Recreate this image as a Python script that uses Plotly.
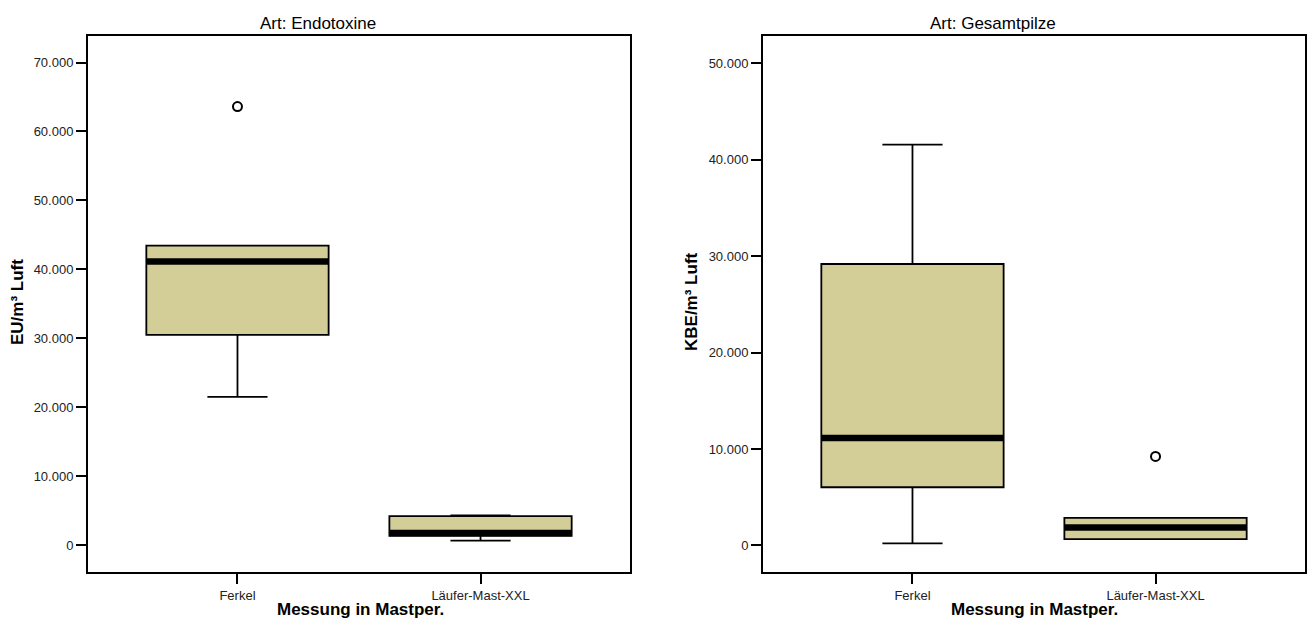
import plotly.graph_objects as go

# Categories on the x axis of both panels
categories = ["Ferkel", "Läufer-Mast-XXL"]

# Endotoxine (EU/m³ Luft) – box statistics per category
endo_q1 = [30480, 1320]
endo_median = [41120, 1750]
endo_q3 = [43440, 4200]
endo_lower = [21480, 630]
endo_upper = [43440, 4300]
endo_outlier_cat = [0]
endo_outlier_val = [63610]

# Gesamtpilze (KBE/m³ Luft) – box statistics per category
pilze_q1 = [6030, 650]
pilze_median = [11130, 1860]
pilze_q3 = [29190, 2850]
pilze_lower = [200, 650]
pilze_upper = [41570, 2850]
pilze_outlier_cat = [1]
pilze_outlier_val = [9230]

endo_ticks = [0, 10000, 20000, 30000, 40000, 50000, 60000, 70000]
pilze_ticks = [0, 10000, 20000, 30000, 40000, 50000]

BOX_FILL = "#D3CE98"
BOX_W = 0.75
FONT = "Liberation Sans, Arial, sans-serif"

fig = go.Figure()

panels = [
    ("x", "y", endo_q1, endo_median, endo_q3, endo_lower, endo_upper,
     endo_outlier_cat, endo_outlier_val),
    ("x2", "y2", pilze_q1, pilze_median, pilze_q3, pilze_lower, pilze_upper,
     pilze_outlier_cat, pilze_outlier_val),
]

for xa, ya, q1, med, q3, lo, hi, ocat, oval in panels:
    pos = list(range(len(categories)))
    fig.add_trace(go.Box(
        x=pos, q1=q1, median=med, q3=q3, lowerfence=lo, upperfence=hi,
        width=BOX_W, whiskerwidth=0.33, fillcolor=BOX_FILL,
        line=dict(color="black", width=1.8), boxpoints=False,
        xaxis=xa, yaxis=ya, showlegend=False, hoverinfo="skip",
    ))
    # thick median bars
    for i, m in enumerate(med):
        fig.add_trace(go.Scatter(
            x=[i - BOX_W / 2, i + BOX_W / 2], y=[m, m], mode="lines",
            line=dict(color="black", width=6.5), xaxis=xa, yaxis=ya,
            showlegend=False, hoverinfo="skip",
        ))
    # outliers
    fig.add_trace(go.Scatter(
        x=ocat, y=oval, mode="markers",
        marker=dict(symbol="circle-open", size=9, color="black",
                    line=dict(width=2, color="black")),
        xaxis=xa, yaxis=ya, showlegend=False, hoverinfo="skip",
    ))

W, H = 1311, 627


def px_x(p):
    return p / W


def px_y(p):
    return 1 - p / H


xaxis_common = dict(
    range=[-0.615, 1.615], tickmode="array", tickvals=[0, 1], ticktext=categories,
    ticks="outside", ticklen=10, tickwidth=2, tickcolor="black",
    showline=True, linecolor="black", linewidth=2, mirror=True,
    showgrid=False, zeroline=False,
    tickfont=dict(family=FONT, size=13, color="#222"),
)
yaxis_common = dict(
    tickmode="array", tickformat=",d",
    ticks="outside", ticklen=10, tickwidth=2, tickcolor="black",
    showline=True, linecolor="black", linewidth=2, mirror=True,
    showgrid=False, zeroline=False,
    tickfont=dict(family=FONT, size=13, color="#222"),
    domain=[px_y(572), px_y(36)],
)

fig.update_layout(
    width=W, height=H,
    margin=dict(l=0, r=0, t=0, b=0),
    paper_bgcolor="white", plot_bgcolor="white",
    separators=",.",
    xaxis=dict(xaxis_common, domain=[px_x(88), px_x(630)], anchor="y"),
    xaxis2=dict(xaxis_common, domain=[px_x(763), px_x(1305)], anchor="y2"),
    yaxis=dict(yaxis_common, range=[-3920, 73850], tickvals=endo_ticks, anchor="x"),
    yaxis2=dict(yaxis_common, range=[-2760, 52840], tickvals=pilze_ticks, anchor="x2"),
)

annotations = [
    dict(text="Art: Endotoxine", x=px_x(318), y=px_y(24), size=17, bold=False, angle=0),
    dict(text="Art: Gesamtpilze", x=px_x(993), y=px_y(24), size=17, bold=False, angle=0),
    dict(text="Messung in Mastper.", x=px_x(360), y=px_y(609), size=17, bold=True, angle=0),
    dict(text="Messung in Mastper.", x=px_x(1034), y=px_y(609), size=17, bold=True, angle=0),
    dict(text="EU/m³ Luft", x=px_x(18), y=px_y(302), size=17, bold=True, angle=-90),
    dict(text="KBE/m³ Luft", x=px_x(692), y=px_y(302), size=17, bold=True, angle=-90),
]
for a in annotations:
    txt = f"<b>{a['text']}</b>" if a["bold"] else a["text"]
    fig.add_annotation(
        text=txt, x=a["x"], y=a["y"], xref="paper", yref="paper",
        xanchor="center", yanchor="middle", showarrow=False, textangle=a["angle"],
        font=dict(family=FONT, size=a["size"], color="black"),
    )

fig.write_html("out.html")
